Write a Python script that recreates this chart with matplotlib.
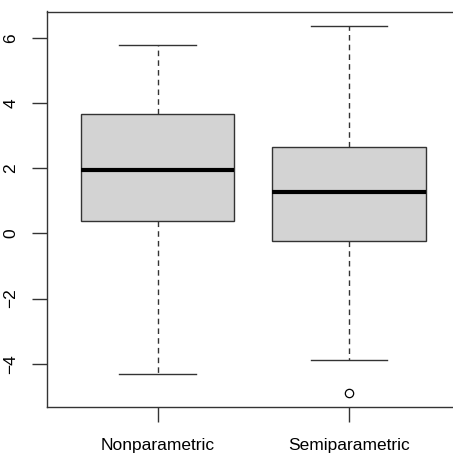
import matplotlib.pyplot as plt

# Box statistics
groups = ["Nonparametric", "Semiparametric"]
q1 = [0.39, -0.23]
med = [1.96, 1.26]
q3 = [3.67, 2.66]
whislo = [-4.32, -3.90]
whishi = [5.78, 6.36]
fliers = [[], [-4.89]]

stats = []
for i in range(len(groups)):
    stats.append(dict(label=groups[i], q1=q1[i], med=med[i], q3=q3[i],
                      whislo=whislo[i], whishi=whishi[i], fliers=fliers[i]))

plt.rcParams['font.family'] = ['Liberation Sans', 'DejaVu Sans']

fig = plt.figure(figsize=(4.53, 4.53), dpi=100)
ax = fig.add_axes([46.7 / 453, 1 - 407.4 / 453, 413.3 / 453, 395.9 / 453])

edge = "#333333"
ax.bxp(stats, positions=[1, 2], widths=0.8, patch_artist=True,
       boxprops=dict(facecolor="#d3d3d3", edgecolor=edge, linewidth=1.0),
       medianprops=dict(color="black", linewidth=3.0, solid_capstyle="butt"),
       whiskerprops=dict(color=edge, linestyle=(0, (4, 3)), linewidth=1.0),
       capprops=dict(color=edge, linewidth=1.0), capwidths=0.4,
       flierprops=dict(marker="o", markerfacecolor="none", markeredgecolor="black",
                       markersize=6, markeredgewidth=0.9))

ax.set_xlim(0.42, 2.58)
ax.set_ylim(-5.34, 6.81)
ax.set_yticks([-4, -2, 0, 2, 4, 6])
ax.set_yticklabels(["\u22124", "\u22122", "0", "2", "4", "6"], rotation=90, va="center")
ax.set_xticks([1, 2])
ax.set_xticklabels(groups)
ax.tick_params(axis="both", length=11, width=1.0, color=edge, labelsize=12.5)
ax.tick_params(axis="y", pad=9.5)
ax.tick_params(axis="x", pad=11)
for s in ax.spines.values():
    s.set_color(edge)
    s.set_linewidth(1.0)

fig.savefig("out.png", dpi=100)
